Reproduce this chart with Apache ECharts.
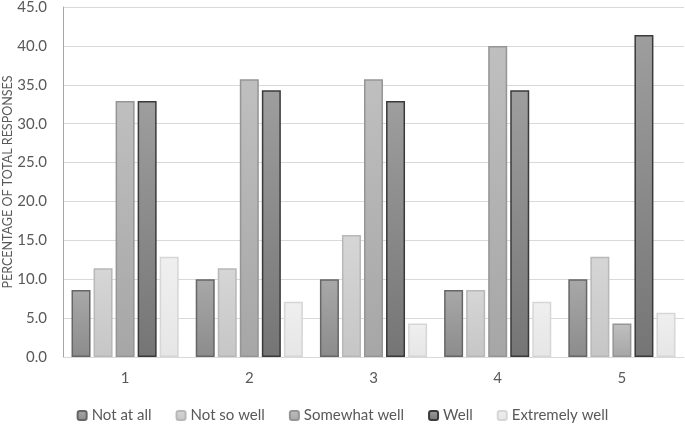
<!DOCTYPE html>
<html>
<head>
<meta charset="utf-8">
<script src="https://cdn.jsdelivr.net/npm/echarts@6/dist/echarts.min.js"></script>
<style>
  html, body { margin: 0; padding: 0; background: #fff; }
  #main { width: 685px; height: 424px; }
</style>
</head>
<body>
<div id="main"></div>
<script>
// categories on the x axis
const categories = ['1', '2', '3', '4', '5'];

// percentage of total responses per series
const notAtAll = [8.6, 10.0, 10.0, 8.6, 10.0];
const notSoWell = [11.4, 11.4, 15.7, 8.6, 12.9];
const somewhatWell = [32.9, 35.7, 35.7, 40.0, 4.3];
const well = [32.9, 34.3, 32.9, 34.3, 41.4];
const extremelyWell = [12.9, 7.1, 4.3, 7.1, 5.7];

const seriesNames = ['Not at all', 'Not so well', 'Somewhat well', 'Well', 'Extremely well'];
const seriesData = [notAtAll, notSoWell, somewhatWell, well, extremelyWell];

// top colour, bottom colour, border colour
const styles = [
  ['#a8a8a8', '#8c8c8c', '#666666'],
  ['#d6d6d6', '#c6c6c6', '#b8b8b8'],
  ['#bfbfbf', '#a6a6a6', '#959595'],
  ['#9e9e9e', '#757575', '#3a3a3a'],
  ['#efefef', '#e6e6e6', '#d6d6d6']
];

const textColor = '#595959';
const font = 'Lato, "Open Sans", sans-serif';

var myChart = echarts.init(document.getElementById('main'));

const option = {
  animation: false,
  textStyle: { fontFamily: font },
  grid: {
    left: 63,
    right: 1,
    top: 7,
    bottom: 67,
    outerBoundsMode: 'none'
  },
  legend: {
    top: 403,
    left: 'center',
    itemWidth: 9,
    itemHeight: 9,
    itemGap: 24,
    textStyle: { color: textColor, fontSize: 15, fontFamily: font },
    data: seriesNames
  },
  xAxis: {
    type: 'category',
    data: categories,
    axisLine: { lineStyle: { color: '#d9d9d9', width: 1 } },
    axisTick: { show: false },
    axisLabel: { color: textColor, fontSize: 15, margin: 14 }
  },
  yAxis: {
    type: 'value',
    min: 0,
    max: 45,
    interval: 5,
    name: 'PERCENTAGE OF TOTAL RESPONSES',
    nameLocation: 'middle',
    nameRotate: 90,
    nameGap: 49,
    nameMoveOverlap: false,
    nameTextStyle: { color: textColor, fontSize: 12.5 },
    axisLine: { show: true, lineStyle: { color: '#a6a6a6', width: 1 } },
    axisTick: { show: false },
    axisLabel: {
      color: textColor,
      fontSize: 15,
      margin: 16,
      formatter: v => v.toFixed(1)
    },
    splitLine: { lineStyle: { color: '#d9d9d9', width: 1 } }
  },
  series: seriesNames.map((name, i) => ({
    name: name,
    type: 'bar',
    data: seriesData[i],
    barWidth: 19,
    barGap: '16%',
    itemStyle: {
      color: new echarts.graphic.LinearGradient(0, 0, 0, 1, [
        { offset: 0, color: styles[i][0] },
        { offset: 1, color: styles[i][1] }
      ]),
      borderColor: styles[i][2],
      borderWidth: 1.5
    }
  }))
};

myChart.setOption(option);
</script>
</body>
</html>
